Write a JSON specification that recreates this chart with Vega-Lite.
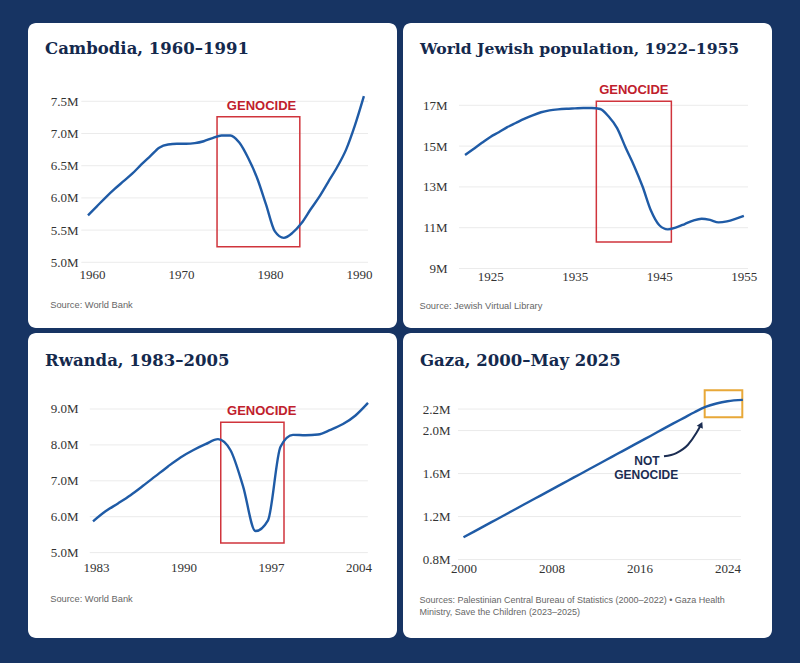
{
  "$schema": "https://vega.github.io/schema/vega-lite/v6.json",
  "background": "#173463",
  "padding": {"left": 28, "top": 23, "right": 28, "bottom": 25},
  "columns": 2,
  "spacing": {"row": 5, "column": 6},
  "bounds": "flush",
  "datasets": {
    "cambodia": [
      {"year": 1960, "pop": 5.73}, {"year": 1961, "pop": 5.87}, {"year": 1962, "pop": 6.01},
      {"year": 1963, "pop": 6.14}, {"year": 1964, "pop": 6.26}, {"year": 1965, "pop": 6.38},
      {"year": 1966, "pop": 6.52}, {"year": 1967, "pop": 6.65}, {"year": 1968, "pop": 6.78},
      {"year": 1969, "pop": 6.83}, {"year": 1970, "pop": 6.84}, {"year": 1971, "pop": 6.84},
      {"year": 1972, "pop": 6.85}, {"year": 1973, "pop": 6.88}, {"year": 1974, "pop": 6.93},
      {"year": 1975, "pop": 6.97}, {"year": 1976, "pop": 6.97}, {"year": 1977, "pop": 6.86},
      {"year": 1978, "pop": 6.62}, {"year": 1979, "pop": 6.31}, {"year": 1980, "pop": 5.9},
      {"year": 1981, "pop": 5.48}, {"year": 1982, "pop": 5.38}, {"year": 1983, "pop": 5.46},
      {"year": 1984, "pop": 5.61}, {"year": 1985, "pop": 5.82}, {"year": 1986, "pop": 6.02},
      {"year": 1987, "pop": 6.25}, {"year": 1988, "pop": 6.48}, {"year": 1989, "pop": 6.75},
      {"year": 1990, "pop": 7.13}, {"year": 1991, "pop": 7.58}
    ],
    "cambodia_grid": [{"pop": 5}, {"pop": 5.5}, {"pop": 6}, {"pop": 6.5}, {"pop": 7}, {"pop": 7.5}],
    "cambodia_box": [{"from": 1974.5, "to": 1983.8, "low": 5.24, "high": 7.26, "label": "GENOCIDE", "label_year": 1979.5}],
    "jewish": [
      {"year": 1922, "pop": 14.56}, {"year": 1923, "pop": 14.86}, {"year": 1924, "pop": 15.16},
      {"year": 1925, "pop": 15.45}, {"year": 1926, "pop": 15.68}, {"year": 1927, "pop": 15.93},
      {"year": 1928, "pop": 16.13}, {"year": 1929, "pop": 16.33}, {"year": 1930, "pop": 16.51},
      {"year": 1931, "pop": 16.66}, {"year": 1932, "pop": 16.75}, {"year": 1933, "pop": 16.8},
      {"year": 1934, "pop": 16.83}, {"year": 1935, "pop": 16.85}, {"year": 1936, "pop": 16.87},
      {"year": 1937, "pop": 16.87}, {"year": 1938, "pop": 16.82}, {"year": 1939, "pop": 16.45},
      {"year": 1940, "pop": 15.88}, {"year": 1941, "pop": 14.93}, {"year": 1942, "pop": 14.04},
      {"year": 1943, "pop": 13.03}, {"year": 1944, "pop": 11.84}, {"year": 1945, "pop": 11.12},
      {"year": 1946, "pop": 10.92}, {"year": 1947, "pop": 11.02}, {"year": 1948, "pop": 11.18},
      {"year": 1949, "pop": 11.35}, {"year": 1950, "pop": 11.44}, {"year": 1951, "pop": 11.38},
      {"year": 1952, "pop": 11.26}, {"year": 1953, "pop": 11.31}, {"year": 1954, "pop": 11.43},
      {"year": 1955, "pop": 11.58}
    ],
    "jewish_grid": [{"pop": 9}, {"pop": 11}, {"pop": 13}, {"pop": 15}, {"pop": 17}],
    "jewish_box": [{"from": 1937.54, "to": 1946.42, "low": 10.3, "high": 17.2, "label": "GENOCIDE", "label_year": 1941.98}],
    "rwanda": [
      {"year": 1983, "pop": 5.87}, {"year": 1984, "pop": 6.15}, {"year": 1985, "pop": 6.37},
      {"year": 1986, "pop": 6.6}, {"year": 1987, "pop": 6.86}, {"year": 1988, "pop": 7.13},
      {"year": 1989, "pop": 7.4}, {"year": 1990, "pop": 7.65}, {"year": 1991, "pop": 7.85},
      {"year": 1992, "pop": 8.02}, {"year": 1993, "pop": 8.16}, {"year": 1994, "pop": 7.85},
      {"year": 1995, "pop": 6.85}, {"year": 1996, "pop": 5.6}, {"year": 1997, "pop": 5.9},
      {"year": 1998, "pop": 7.95}, {"year": 1999, "pop": 8.28}, {"year": 2000, "pop": 8.27},
      {"year": 2001, "pop": 8.29}, {"year": 2002, "pop": 8.42}, {"year": 2003, "pop": 8.58},
      {"year": 2004, "pop": 8.82}, {"year": 2005, "pop": 9.17}
    ],
    "rwanda_grid": [{"pop": 5}, {"pop": 6}, {"pop": 7}, {"pop": 8}, {"pop": 9}],
    "rwanda_box": [{"from": 1993.22, "to": 1998.28, "low": 5.27, "high": 8.63, "label": "GENOCIDE", "label_year": 1996.5}],
    "gaza": [
      {"year": 2000, "pop": 1.007}, {"year": 2001, "pop": 1.062}, {"year": 2002, "pop": 1.118},
      {"year": 2003, "pop": 1.173}, {"year": 2004, "pop": 1.229}, {"year": 2005, "pop": 1.284},
      {"year": 2006, "pop": 1.34}, {"year": 2007, "pop": 1.395}, {"year": 2008, "pop": 1.451},
      {"year": 2009, "pop": 1.506}, {"year": 2010, "pop": 1.562}, {"year": 2011, "pop": 1.617},
      {"year": 2012, "pop": 1.673}, {"year": 2013, "pop": 1.728}, {"year": 2014, "pop": 1.784},
      {"year": 2015, "pop": 1.839}, {"year": 2016, "pop": 1.895}, {"year": 2017, "pop": 1.95},
      {"year": 2018, "pop": 2.006}, {"year": 2019, "pop": 2.062}, {"year": 2020, "pop": 2.116},
      {"year": 2021, "pop": 2.17}, {"year": 2022, "pop": 2.22}, {"year": 2023, "pop": 2.252},
      {"year": 2024, "pop": 2.273}, {"year": 2025.4, "pop": 2.285}
    ],
    "gaza_grid": [{"pop": 0.8}, {"pop": 1.2}, {"pop": 1.6}, {"pop": 2.0}, {"pop": 2.2}],
    "gaza_box": [{"from": 2021.93, "to": 2025.35, "low": 2.123, "high": 2.374}],
    "gaza_arrow": [
      {"year": 2018.23, "pop": 1.761}, {"year": 2019.35, "pop": 1.791}, {"year": 2020.41, "pop": 1.868},
      {"year": 2021.17, "pop": 1.977}, {"year": 2021.52, "pop": 2.04}
    ],
    "gaza_head": [{"year": 2021.6, "pop": 2.055}],
    "gaza_note": [{"label": "NOT", "year": 2016.68, "pop": 1.72}, {"label": "GENOCIDE", "year": 2016.62, "pop": 1.584}]
  },
  "config": {
    "view": {"stroke": null},
    "axis": {
      "grid": false, "domain": false, "ticks": false,
      "labelFont": "Liberation Serif", "labelFontSize": 13, "labelColor": "#333333",
      "labelOverlap": false, "labelFlush": false,
      "titleFont": "Liberation Sans", "titleFontSize": 9.3, "titleFontWeight": "normal",
      "titleColor": "#666666", "titleAlign": "left", "titleBaseline": "alphabetic", "titleAngle": 0
    },
    "axisY": {"labelBaseline": "middle"},
    "title": {
      "font": "DejaVu Serif", "fontSize": 16, "fontWeight": "bold", "color": "#14294d",
      "anchor": "start", "frame": "group", "baseline": "alphabetic"
    }
  },
  "concat": [
    {
      "width": 369, "height": 305,
      "view": {"fill": "white", "cornerRadius": 8, "stroke": null},
      "title": {"text": "Cambodia, 1960–1991", "offset": -34.5, "dx": 17, "fontSize": 16.5},
      "layer": [
        {
          "data": {"name": "cambodia_grid"},
          "mark": {"type": "rule", "color": "#ebebeb", "strokeWidth": 1},
          "encoding": {
            "y": {"field": "pop", "type": "quantitative", "scale": {"domain": [3.98, 8.716], "nice": false, "zero": false},
              "axis": {"values": [5, 5.5, 6, 6.5, 7, 7.5], "labelExpr": "format(datum.value, '.1f') + 'M'", "title": null, "offset": -53, "labelPadding": 3}},
            "x": {"datum": 1959.25, "type": "quantitative", "scale": {"domain": [1953.26, 1994.72], "nice": false, "zero": false},
              "axis": {"values": [1960, 1970, 1980, 1990], "format": "d", "offset": -65.7, "labelPadding": 6, "labelOffset": 4,
                "title": "Source: World Bank", "titleX": 21.7, "titleY": 45.2}},
            "x2": {"datum": 1991.46}
          }
        },
        {
          "data": {"name": "cambodia_box"},
          "mark": {"type": "rect", "filled": false, "color": "#d0343c", "strokeWidth": 1.5},
          "encoding": {
            "x": {"field": "from", "type": "quantitative", "scale": {"domain": [1953.26, 1994.72], "nice": false, "zero": false}},
            "x2": {"field": "to"},
            "y": {"field": "low", "type": "quantitative", "scale": {"domain": [3.98, 8.716], "nice": false, "zero": false}},
            "y2": {"field": "high"}
          }
        },
        {
          "data": {"name": "cambodia"},
          "mark": {"type": "line", "color": "#1f5ba6", "strokeWidth": 2.4, "interpolate": "monotone"},
          "encoding": {
            "x": {"field": "year", "type": "quantitative", "scale": {"domain": [1953.26, 1994.72], "nice": false, "zero": false}},
            "y": {"field": "pop", "type": "quantitative", "scale": {"domain": [3.98, 8.716], "nice": false, "zero": false}}
          }
        },
        {
          "data": {"name": "cambodia_box"},
          "mark": {"type": "text", "font": "Liberation Sans", "fontWeight": "bold", "fontSize": 13, "color": "#c0202c", "baseline": "alphabetic", "align": "center", "dy": -7},
          "encoding": {
            "x": {"field": "label_year", "type": "quantitative", "scale": {"domain": [1953.26, 1994.72], "nice": false, "zero": false}},
            "y": {"field": "high", "type": "quantitative", "scale": {"domain": [3.98, 8.716], "nice": false, "zero": false}},
            "text": {"field": "label"}
          }
        }
      ]
    },
    {
      "width": 369, "height": 305,
      "view": {"fill": "white", "cornerRadius": 8, "stroke": null},
      "title": {"text": "World Jewish population, 1922–1955", "offset": -34.5, "dx": 17, "fontSize": 15.6},
      "layer": [
        {
          "data": {"name": "jewish_grid"},
          "mark": {"type": "rule", "color": "#ebebeb", "strokeWidth": 1},
          "encoding": {
            "y": {"field": "pop", "type": "quantitative", "scale": {"domain": [6.083, 21.034], "nice": false, "zero": false},
              "axis": {"values": [9, 11, 13, 15, 17], "labelExpr": "format(datum.value, 'd') + 'M'", "title": null, "offset": -47, "labelPadding": 3}},
            "x": {"datum": 1921.29, "type": "quantitative", "scale": {"domain": [1914.66, 1958.33], "nice": false, "zero": false},
              "axis": {"values": [1925, 1935, 1945, 1955], "format": "d", "offset": -64, "labelPadding": 6,
                "title": "Source: Jewish Virtual Library", "titleX": 16, "titleY": 44}},
            "x2": {"datum": 1955.49}
          }
        },
        {
          "data": {"name": "jewish_box"},
          "mark": {"type": "rect", "filled": false, "color": "#d0343c", "strokeWidth": 1.5},
          "encoding": {
            "x": {"field": "from", "type": "quantitative", "scale": {"domain": [1914.66, 1958.33], "nice": false, "zero": false}},
            "x2": {"field": "to"},
            "y": {"field": "low", "type": "quantitative", "scale": {"domain": [6.083, 21.034], "nice": false, "zero": false}},
            "y2": {"field": "high"}
          }
        },
        {
          "data": {"name": "jewish"},
          "mark": {"type": "line", "color": "#1f5ba6", "strokeWidth": 2.4, "interpolate": "monotone"},
          "encoding": {
            "x": {"field": "year", "type": "quantitative", "scale": {"domain": [1914.66, 1958.33], "nice": false, "zero": false}},
            "y": {"field": "pop", "type": "quantitative", "scale": {"domain": [6.083, 21.034], "nice": false, "zero": false}}
          }
        },
        {
          "data": {"name": "jewish_box"},
          "mark": {"type": "text", "font": "Liberation Sans", "fontWeight": "bold", "fontSize": 13, "color": "#c0202c", "baseline": "alphabetic", "align": "center", "dy": -7},
          "encoding": {
            "x": {"field": "label_year", "type": "quantitative", "scale": {"domain": [1914.66, 1958.33], "nice": false, "zero": false}},
            "y": {"field": "high", "type": "quantitative", "scale": {"domain": [6.083, 21.034], "nice": false, "zero": false}},
            "text": {"field": "label"}
          }
        }
      ]
    },
    {
      "width": 369, "height": 305,
      "view": {"fill": "white", "cornerRadius": 8, "stroke": null},
      "title": {"text": "Rwanda, 1983–2005", "offset": -36, "dx": 17, "fontSize": 16.5},
      "layer": [
        {
          "data": {"name": "rwanda_grid"},
          "mark": {"type": "rule", "color": "#ebebeb", "strokeWidth": 1},
          "encoding": {
            "y": {"field": "pop", "type": "quantitative", "scale": {"domain": [2.621, 11.117], "nice": false, "zero": false},
              "axis": {"values": [5, 6, 7, 8, 9], "labelExpr": "format(datum.value, '.1f') + 'M'", "title": null, "offset": -53, "labelPadding": 3}},
            "x": {"datum": 1982.74, "type": "quantitative", "scale": {"domain": [1977.8, 2007.32], "nice": false, "zero": false},
              "axis": {"values": [1983, 1990, 1997, 2004], "format": "d", "offset": -85.4, "labelPadding": 9, "labelOffset": 3,
                "title": "Source: World Bank", "titleX": 21.7, "titleY": 48.9}},
            "x2": {"datum": 2004.99}
          }
        },
        {
          "data": {"name": "rwanda_box"},
          "mark": {"type": "rect", "filled": false, "color": "#d0343c", "strokeWidth": 1.5},
          "encoding": {
            "x": {"field": "from", "type": "quantitative", "scale": {"domain": [1977.8, 2007.32], "nice": false, "zero": false}},
            "x2": {"field": "to"},
            "y": {"field": "low", "type": "quantitative", "scale": {"domain": [2.621, 11.117], "nice": false, "zero": false}},
            "y2": {"field": "high"}
          }
        },
        {
          "data": {"name": "rwanda"},
          "mark": {"type": "line", "color": "#1f5ba6", "strokeWidth": 2.4, "interpolate": "monotone"},
          "encoding": {
            "x": {"field": "year", "type": "quantitative", "scale": {"domain": [1977.8, 2007.32], "nice": false, "zero": false}},
            "y": {"field": "pop", "type": "quantitative", "scale": {"domain": [2.621, 11.117], "nice": false, "zero": false}}
          }
        },
        {
          "data": {"name": "rwanda_box"},
          "mark": {"type": "text", "font": "Liberation Sans", "fontWeight": "bold", "fontSize": 13, "color": "#c0202c", "baseline": "alphabetic", "align": "center", "dy": -7},
          "encoding": {
            "x": {"field": "label_year", "type": "quantitative", "scale": {"domain": [1977.8, 2007.32], "nice": false, "zero": false}},
            "y": {"field": "high", "type": "quantitative", "scale": {"domain": [2.621, 11.117], "nice": false, "zero": false}},
            "text": {"field": "label"}
          }
        }
      ]
    },
    {
      "width": 369, "height": 305,
      "view": {"fill": "white", "cornerRadius": 8, "stroke": null},
      "title": {"text": "Gaza, 2000–May 2025", "offset": -36, "dx": 17, "fontSize": 16.5},
      "layer": [
        {
          "data": {"name": "gaza_grid"},
          "mark": {"type": "rule", "color": "#ebebeb", "strokeWidth": 1},
          "encoding": {
            "y": {"field": "pop", "type": "quantitative", "scale": {"domain": [0.0703, 2.9075], "nice": false, "zero": false},
              "axis": {"values": [0.8, 1.2, 1.6, 2.0, 2.2], "labelExpr": "format(datum.value, '.1f') + 'M'", "title": null, "offset": -50, "labelPadding": 3}},
            "x": {"datum": 1999.5, "type": "quantitative", "scale": {"domain": [1994.5, 2028.05], "nice": false, "zero": false},
              "axis": {"values": [2000, 2008, 2016, 2024], "format": "d", "offset": -78.4, "labelPadding": 3,
                "title": ["Sources: Palestinian Central Bureau of Statistics (2000–2022) • Gaza Health", "Ministry, Save the Children (2023–2025)"],
                "titleFontSize": 9, "titleLineHeight": 12, "titleX": 16, "titleY": 42.4}},
            "x2": {"datum": 2025.23}
          }
        },
        {
          "data": {"name": "gaza_box"},
          "mark": {"type": "rect", "filled": false, "color": "#e8a838", "strokeWidth": 2},
          "encoding": {
            "x": {"field": "from", "type": "quantitative", "scale": {"domain": [1994.5, 2028.05], "nice": false, "zero": false}},
            "x2": {"field": "to"},
            "y": {"field": "low", "type": "quantitative", "scale": {"domain": [0.0703, 2.9075], "nice": false, "zero": false}},
            "y2": {"field": "high"}
          }
        },
        {
          "data": {"name": "gaza"},
          "mark": {"type": "line", "color": "#1f5ba6", "strokeWidth": 2.4, "interpolate": "monotone"},
          "encoding": {
            "x": {"field": "year", "type": "quantitative", "scale": {"domain": [1994.5, 2028.05], "nice": false, "zero": false}},
            "y": {"field": "pop", "type": "quantitative", "scale": {"domain": [0.0703, 2.9075], "nice": false, "zero": false}}
          }
        },
        {
          "data": {"name": "gaza_arrow"},
          "mark": {"type": "line", "color": "#1b2d52", "strokeWidth": 2, "interpolate": "monotone"},
          "encoding": {
            "x": {"field": "year", "type": "quantitative", "scale": {"domain": [1994.5, 2028.05], "nice": false, "zero": false}},
            "y": {"field": "pop", "type": "quantitative", "scale": {"domain": [0.0703, 2.9075], "nice": false, "zero": false}}
          }
        },
        {
          "data": {"name": "gaza_head"},
          "mark": {"type": "point", "shape": "triangle-up", "filled": true, "color": "#1b2d52", "size": 45, "angle": 26, "opacity": 1},
          "encoding": {
            "x": {"field": "year", "type": "quantitative", "scale": {"domain": [1994.5, 2028.05], "nice": false, "zero": false}},
            "y": {"field": "pop", "type": "quantitative", "scale": {"domain": [0.0703, 2.9075], "nice": false, "zero": false}}
          }
        },
        {
          "data": {"name": "gaza_note"},
          "mark": {"type": "text", "font": "Liberation Sans", "fontWeight": "bold", "fontSize": 12, "color": "#1b2d52", "baseline": "middle", "align": "center"},
          "encoding": {
            "x": {"field": "year", "type": "quantitative", "scale": {"domain": [1994.5, 2028.05], "nice": false, "zero": false}},
            "y": {"field": "pop", "type": "quantitative", "scale": {"domain": [0.0703, 2.9075], "nice": false, "zero": false}},
            "text": {"field": "label"}
          }
        }
      ]
    }
  ]
}
